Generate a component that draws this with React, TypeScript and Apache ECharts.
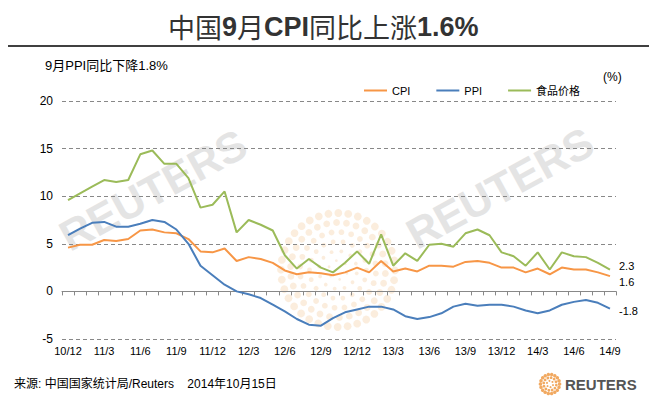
import React, { useEffect, useRef } from "react";
import * as echarts from "echarts";

const categories = [
  "10/12",
  "11/1", "11/2", "11/3", "11/4", "11/5", "11/6", "11/7", "11/8", "11/9", "11/10", "11/11", "11/12",
  "12/1", "12/2", "12/3", "12/4", "12/5", "12/6", "12/7", "12/8", "12/9", "12/10", "12/11", "12/12",
  "13/1", "13/2", "13/3", "13/4", "13/5", "13/6", "13/7", "13/8", "13/9", "13/10", "13/11", "13/12",
  "14/1", "14/2", "14/3", "14/4", "14/5", "14/6", "14/7", "14/8", "14/9",
];

const cpi = [
  4.6,
  4.9, 4.9, 5.4, 5.3, 5.5, 6.4, 6.5, 6.2, 6.1, 5.5, 4.2, 4.1,
  4.5, 3.2, 3.6, 3.4, 3.0, 2.2, 1.8, 2.0, 1.9, 1.7, 2.0, 2.5,
  2.0, 3.2, 2.1, 2.4, 2.1, 2.7, 2.7, 2.6, 3.1, 3.2, 3.0, 2.5,
  2.5, 2.0, 2.4, 1.8, 2.5, 2.3, 2.3, 2.0, 1.6,
];

const ppi = [
  5.9,
  6.6, 7.2, 7.3, 6.8, 6.8, 7.1, 7.5, 7.3, 6.5, 5.0, 2.7, 1.7,
  0.7, 0.0, -0.3, -0.7, -1.4, -2.1, -2.9, -3.5, -3.6, -2.8, -2.2, -1.9,
  -1.6, -1.6, -1.9, -2.6, -2.9, -2.7, -2.3, -1.6, -1.3, -1.5, -1.4, -1.4,
  -1.6, -2.0, -2.3, -2.0, -1.4, -1.1, -0.9, -1.2, -1.8,
];

const food = [
  9.6,
  10.3, 11.0, 11.7, 11.5, 11.7, 14.4, 14.8, 13.4, 13.4, 11.9, 8.8, 9.1,
  10.5, 6.2, 7.5, 7.0, 6.4, 3.8, 2.4, 3.4, 2.5, 2.0, 3.0, 4.2,
  2.9, 6.0, 2.7, 4.0, 3.2, 4.9, 5.0, 4.7, 6.1, 6.5, 5.9, 4.1,
  3.7, 2.7, 4.1, 2.3, 4.1, 3.7, 3.6, 3.0, 2.3,
];

const seriesNames = ["CPI", "PPI", "食品价格"];
const yTicks = { min: -5, max: 20, interval: 5 };

const FONT = "'Liberation Sans', 'Noto Sans CJK SC', sans-serif";

function dotLogo(cx: number, cy: number, rings: number, step: number, base: number, grow: number, fill: string, opacity: number) {
  const els: any[] = [];
  for (let k = 1; k <= rings; k++) {
    const r = step * k;
    const n = 6 * k;
    for (let j = 0; j < n; j++) {
      const a = (2 * Math.PI * j) / n + k * 0.35;
      els.push({
        type: "circle",
        z: 0,
        silent: true,
        shape: { cx: cx + r * Math.cos(a), cy: cy + r * Math.sin(a), r: base + grow * k },
        style: { fill, opacity },
      });
    }
  }
  return els;
}

export default function App() {
  const ref = useRef<HTMLDivElement>(null);
  useEffect(() => {
    if (!ref.current) return;
    const chart = echarts.init(ref.current, null, { renderer: "svg" });
    const colors = ["#f79646", "#4a7ebb", "#9bbb59"];
    const endOffsets = [[0, 6], [0, 2], [0, -4]];
    const seriesData = [cpi, ppi, food];
    chart.setOption({
      animation: false,
      textStyle: { fontFamily: FONT },
      color: colors,
      title: {
        text: "{a|中国}{b|9}{a|月}{b|CPI}{a|同比上涨}{b|1.6%}",
        left: 163,
        top: 8,
        textStyle: {
          fontWeight: "normal",
          rich: {
            a: { fontSize: 27, color: "#333", fontWeight: "normal", fontFamily: "'Noto Sans CJK SC', sans-serif" },
            b: { fontSize: 27, color: "#333", fontWeight: "bold", fontFamily: "'Liberation Sans', sans-serif" },
          },
        },
      },
      legend: {
        data: seriesNames,
        left: 359,
        top: 80,
        icon: "rect",
        itemWidth: 23,
        itemHeight: 2,
        itemGap: 26,
        textStyle: { fontSize: 11, color: "#000", fontFamily: FONT },
      },
      grid: { left: 62, right: 38, top: 101, bottom: 60, containLabel: false },
      xAxis: [
        {
          type: "category",
          data: categories,
          boundaryGap: true,
          position: "bottom",
          axisLine: { show: false, onZero: false },
          axisTick: { show: false },
          axisLabel: { interval: 2, fontSize: 11, color: "#000", margin: 6 },
          splitLine: { show: false },
        },
        {
          type: "category",
          data: categories,
          boundaryGap: true,
          position: "bottom",
          axisLine: { show: true, onZero: true, lineStyle: { color: "#888", width: 1 } },
          axisTick: { show: true, interval: 0, length: 4, lineStyle: { color: "#888" } },
          axisLabel: { show: false },
          splitLine: { show: false },
        },
      ],
      yAxis: {
        type: "value",
        min: yTicks.min,
        max: yTicks.max,
        interval: yTicks.interval,
        axisLine: { show: false },
        axisTick: { show: false },
        axisLabel: { fontSize: 12, color: "#000", margin: 9 },
        splitLine: { show: true, lineStyle: { color: "#888", type: [4, 3], width: 1 } },
      },
      series: seriesNames.map((name, i) => ({
        name,
        type: "line",
        xAxisIndex: 0,
        data: seriesData[i],
        symbol: "none",
        z: 3,
        lineStyle: { width: 2, color: colors[i] },
        itemStyle: { color: colors[i] },
        endLabel: {
          show: true,
          formatter: (p: any) => String(p.value),
          fontSize: 11,
          color: "#000",
          distance: 9,
          offset: endOffsets[i],
        },
      })),
      graphic: [
        {
          type: "text",
          x: 153,
          y: 190,
          rotation: 0.5,
          z: 0,
          silent: true,
          style: {
            text: "REUTERS",
            fontSize: 43,
            fontWeight: "bold",
            fontFamily: "'Liberation Sans', sans-serif",
            fill: "#e4e4e4",
            align: "center",
            verticalAlign: "middle",
          },
        },
        {
          type: "text",
          x: 500,
          y: 188,
          rotation: 0.5,
          z: 0,
          silent: true,
          style: {
            text: "REUTERS",
            fontSize: 43,
            fontWeight: "bold",
            fontFamily: "'Liberation Sans', sans-serif",
            fill: "#e4e4e4",
            align: "center",
            verticalAlign: "middle",
          },
        },
        ...dotLogo(338, 270, 6, 9.5, 0.9, 0.5, "#f6d6b3", 0.45),
        {
          type: "line",
          silent: true,
          shape: { x1: 8, y1: 46, x2: 649, y2: 46 },
          style: { stroke: "#000", lineWidth: 1.5 },
        },
        {
          type: "text",
          x: 45,
          y: 65,
          silent: true,
          style: {
            text: "9月PPI同比下降1.8%",
            fontSize: 13,
            fontFamily: FONT,
            fill: "#000",
            verticalAlign: "middle",
          },
        },
        {
          type: "text",
          x: 603,
          y: 77,
          silent: true,
          style: { text: "(%)", fontSize: 12, fontFamily: FONT, fill: "#000", verticalAlign: "middle" },
        },
        {
          type: "text",
          x: 14,
          y: 384,
          silent: true,
          style: {
            text: "来源: 中国国家统计局/Reuters    2014年10月15日",
            fontSize: 12,
            fontFamily: FONT,
            fill: "#000",
            verticalAlign: "middle",
          },
        },
        ...dotLogo(550, 384, 3, 3.2, 0.7, 0.35, "#f0a050", 0.9),
        {
          type: "text",
          x: 565,
          y: 384,
          silent: true,
          style: {
            text: "REUTERS",
            fontSize: 15,
            fontWeight: "bold",
            fontFamily: "'Liberation Sans', sans-serif",
            fill: "#555",
            verticalAlign: "middle",
          },
        },
      ],
    });
    return () => chart.dispose();
  }, []);
  return (
    <div
      ref={ref}
      style={{ position: "absolute", left: 0, top: 0, width: 654, height: 399, background: "#fff" }}
    />
  );
}
